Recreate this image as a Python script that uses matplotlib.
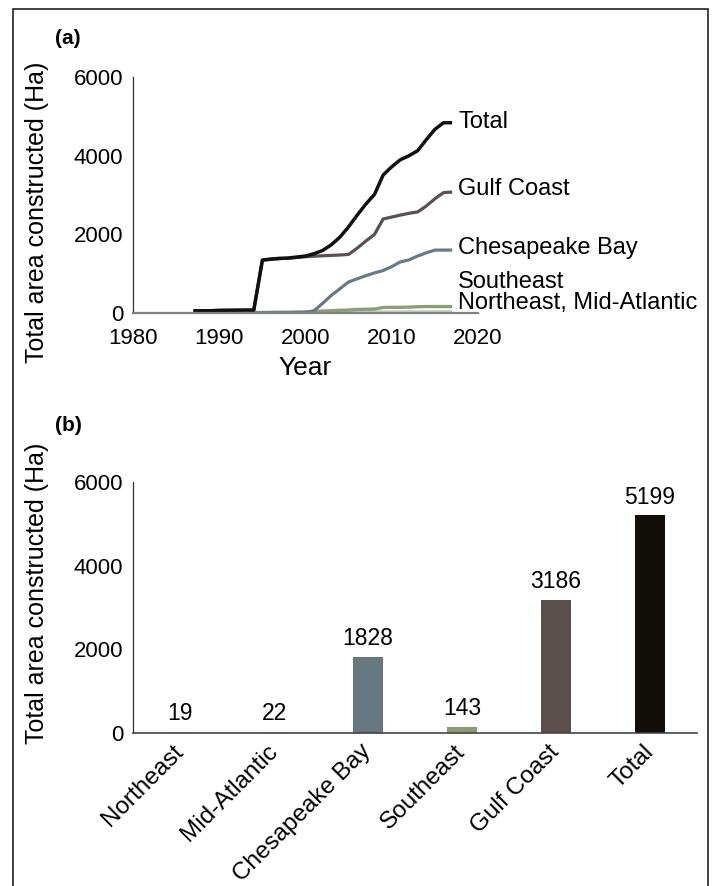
import numpy as np
import matplotlib
matplotlib.use('Agg')
import matplotlib.pyplot as plt
from matplotlib.patches import Rectangle

plt.rcParams['font.family'] = ['Liberation Sans', 'DejaVu Sans']

# ---- (a) cumulative area by region, 1987-2017 ----
years = np.arange(1987, 2018)
total_line = [58, 58, 58, 70, 72, 74, 76, 76, 1347, 1373, 1390, 1398, 1424, 1449, 1508,
              1593, 1737, 1932, 2194, 2491, 2771, 3017, 3508, 3719, 3897, 3999, 4126,
              4406, 4669, 4838, 4838]
gulf_line = [50, 50, 50, 62, 64, 66, 68, 68, 1340, 1365, 1382, 1392, 1410, 1430, 1445,
             1455, 1465, 1475, 1490, 1650, 1830, 2000, 2390, 2440, 2490, 2535, 2570,
             2720, 2905, 3060, 3076]
chesapeake_line = [0, 0, 0, 0, 0, 0, 0, 0, 5, 5, 5, 5, 8, 10, 60, 250, 450, 620, 790,
                   870, 950, 1020, 1080, 1180, 1300, 1350, 1450, 1530, 1600, 1600, 1600]
southeast_line = [0, 0, 0, 0, 0, 0, 0, 0, 10, 15, 20, 20, 25, 30, 40, 50, 60, 70, 75,
                  90, 95, 100, 140, 145, 145, 150, 160, 165, 165, 165, 165]
northeast_line = [0] * 13 + [2, 3, 4, 5, 6, 8, 9, 10, 12, 13, 14, 15, 16, 17, 18, 19, 19, 19]
midatl_line = [0] * 13 + [2, 3, 5, 6, 7, 8, 10, 11, 12, 14, 15, 16, 18, 19, 20, 21, 22, 22]

# ---- (b) total by region ----
regions = ['Northeast', 'Mid-Atlantic', 'Chesapeake Bay', 'Southeast', 'Gulf Coast', 'Total']
region_area = [19, 22, 1828, 143, 3186, 5199]

c_total = '#111111'
c_gulf = '#5b5050'
c_ches = '#687a84'
c_se = '#8c9e74'
c_ne = '#d8dcaa'
c_ma = '#bccbdc'

fig = plt.figure(figsize=(7.14, 8.86), dpi=100)

# outer frame, open at the bottom
fig.patches.append(Rectangle((0.0187, -0.05), 0.9729, 1.0395, transform=fig.transFigure,
                             fill=False, edgecolor='#222222', linewidth=1.2))

tick_fs = 16
axis_fs = 18
label_fs = 17

# ================= panel (a) =================
ax1 = fig.add_axes([0.1863, 0.6467, 0.4832, 0.2664])
ax1.plot(years, northeast_line, color=c_ne, lw=3.2, solid_capstyle='butt')
ax1.plot(years, midatl_line, color=c_ma, lw=2.2, solid_capstyle='butt')
ax1.plot(years, southeast_line, color=c_se, lw=2.4, solid_capstyle='butt')
ax1.plot(years, chesapeake_line, color=c_ches, lw=2.3, solid_capstyle='butt')
ax1.plot(years, gulf_line, color=c_gulf, lw=2.3, solid_capstyle='butt')
ax1.plot(years, total_line, color=c_total, lw=2.5, solid_capstyle='butt')

ax1.set_xlim(1980, 2020)
ax1.set_ylim(0, 6000)
ax1.set_xticks([1980, 1990, 2000, 2010, 2020])
ax1.set_yticks([0, 2000, 4000, 6000])
ax1.tick_params(axis='x', length=0, pad=11, labelsize=tick_fs)
ax1.tick_params(axis='y', length=0, pad=7, labelsize=tick_fs)
for s in ['top', 'right']:
    ax1.spines[s].set_visible(False)
ax1.spines['left'].set_color('#333333')
ax1.spines['left'].set_linewidth(0.9)
ax1.spines['bottom'].set_color('#808080')
ax1.spines['bottom'].set_linewidth(1.6)
ax1.set_xlabel('Year', fontsize=19, labelpad=5)

lab_x = 2017.7
ax1.text(lab_x, 4864, 'Total', fontsize=label_fs, va='center')
ax1.text(lab_x, 3144, 'Gulf Coast', fontsize=label_fs, va='center')
ax1.text(lab_x, 1644, 'Chesapeake Bay', fontsize=label_fs, va='center')
ax1.text(lab_x, 796, 'Southeast', fontsize=label_fs, va='center')
ax1.text(lab_x, 262, 'Northeast, Mid-Atlantic', fontsize=label_fs, va='center')

fig.text(55 / 714, 1 - 38 / 886, '(a)', fontsize=15, fontweight='bold', va='center')
fig.text(37 / 714, 1 - 212 / 886, 'Total area constructed (Ha)', fontsize=axis_fs,
         rotation=90, ha='center', va='center')

# ================= panel (b) =================
ax2 = fig.add_axes([0.1863, 0.1727, 0.7899, 0.2833])
x = np.arange(len(regions))
bar_colors = [c_ne, c_ma, '#67777f', '#8a9c76', '#5a4f4d', '#120e09']
bars = ax2.bar(x, region_area, width=0.31, color=bar_colors)
for b, v in zip(bars, region_area):
    ax2.annotate(f'{v}', xy=(b.get_x() + b.get_width() / 2, v), xytext=(0, 5),
                 textcoords='offset points', ha='center', va='bottom', fontsize=16.5)

ax2.set_xlim(-0.5, 5.5)
ax2.set_ylim(0, 6000)
ax2.set_yticks([0, 2000, 4000, 6000])
ax2.set_xticks(x)
ax2.set_xticklabels(regions, rotation=45, ha='right', va='center',
                    rotation_mode='anchor', fontsize=17.5)
ax2.tick_params(axis='x', length=0, pad=11)
ax2.tick_params(axis='y', length=0, pad=7, labelsize=tick_fs)
for s in ['top', 'right']:
    ax2.spines[s].set_visible(False)
ax2.spines['left'].set_color('#333333')
ax2.spines['left'].set_linewidth(0.9)
ax2.spines['bottom'].set_color('#444444')
ax2.spines['bottom'].set_linewidth(1.2)

fig.text(55 / 714, 1 - 425 / 886, '(b)', fontsize=15, fontweight='bold', va='center')
fig.text(37 / 714, 1 - 593 / 886, 'Total area constructed (Ha)', fontsize=axis_fs,
         rotation=90, ha='center', va='center')

fig.savefig('out.png', dpi=100, facecolor='white')
